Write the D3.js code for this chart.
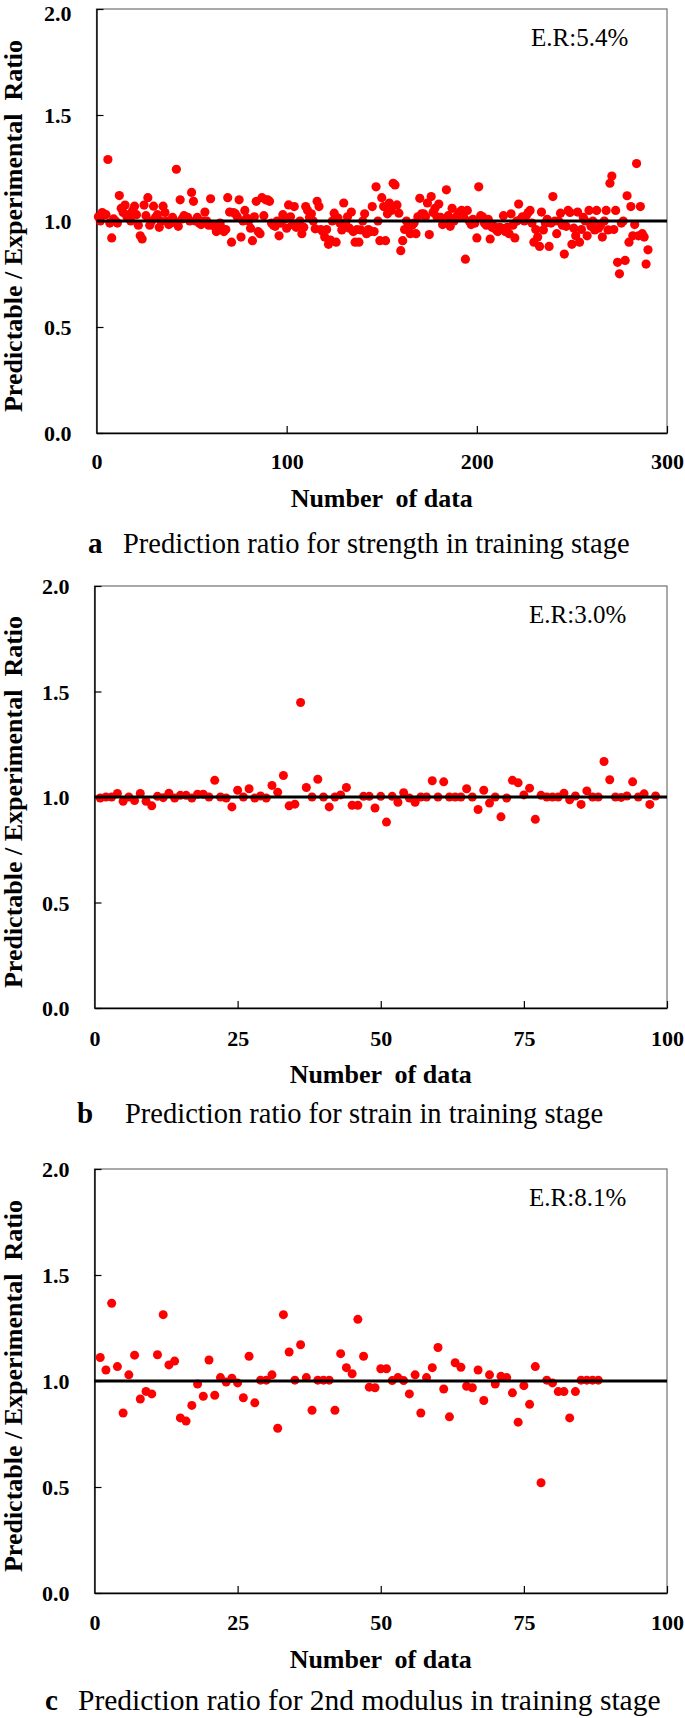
<!DOCTYPE html>
<html>
<head>
<meta charset="utf-8">
<script src="https://cdn.jsdelivr.net/npm/d3@7"></script>
<style>
  body { margin: 0; background: #fff; }
  svg text { font-family: "Liberation Serif", "Times New Roman", serif; fill: #000; }
</style>
</head>
<body>
<svg id="chart" width="685" height="1718"></svg>
<script>
// predicted / experimental ratio (index = data number)
var strengthRatio = [
  1.02, 1.00, 1.04, 1.03, 1.03, 1.29, 0.99, 0.92, 1.01, 1.00,
  0.99, 1.12, 1.06, 1.04, 1.075, 1.02, 1.03, 1.00, 1.05, 1.07,
  1.03, 0.98, 0.93, 0.915, 1.075, 1.025, 1.11, 0.98, 1.00, 1.07,
  1.017, 1.03, 0.97, 1.00, 1.07, 1.04, 1.00, 0.983, 0.99, 1.017,
  1.00, 1.244, 0.975, 1.10, 1.01, 1.025, 1.02, 1.017, 1.00, 1.135,
  1.093, 1.00, 1.017, 0.99, 0.983, 1.00, 1.042, 1.00, 0.98, 1.105,
  0.98, 0.975, 0.95, 0.96, 0.99, 0.966, 0.95, 0.96, 1.11, 1.042,
  0.90, 1.04, 1.034, 1.02, 1.10, 0.924, 1.00, 1.05, 1.014, 1.00,
  0.966, 0.907, 1.02, 1.093, 0.95, 0.94, 1.11, 1.025, 1.10, 1.10,
  1.093, 0.99, 0.98, 0.975, 1.00, 0.93, 0.99, 1.03, 1.01, 0.966,
  1.076, 1.02, 0.983, 1.068, 0.97, 0.99, 1.00, 0.94, 0.97, 1.068,
  1.05, 1.017, 1.034, 1.00, 0.963, 1.093, 1.068, 0.96, 0.95, 0.924,
  0.96, 0.89, 0.91, 1.00, 1.037, 0.90, 1.014, 0.99, 0.958, 1.085,
  0.99, 1.02, 0.966, 1.042, 0.95, 0.90, 0.96, 0.90, 0.958, 1.00,
  1.034, 0.94, 0.96, 0.95, 1.068, 0.95, 1.161, 1.00, 0.907, 1.11,
  1.068, 0.907, 1.034, 1.085, 1.05, 1.178, 1.17, 1.076, 1.037, 0.86,
  0.907, 0.96, 1.00, 0.966, 0.94, 0.98, 0.99, 0.94, 1.02, 1.107,
  1.034, 1.034, 1.02, 1.085, 0.936, 1.115, 1.04, 1.06, 1.02, 1.08,
  1.017, 0.983, 1.00, 1.147, 1.025, 0.975, 1.06, 1.00, 1.017, 1.03,
  1.042, 1.05, 1.02, 0.82, 1.05, 1.00, 0.983, 1.008, 0.99, 0.92,
  1.161, 1.025, 1.02, 0.99, 0.98, 1.008, 0.915, 0.97, 0.975, 0.96,
  0.95, 0.97, 0.966, 1.025, 0.95, 0.97, 0.94, 1.034, 0.98, 0.92,
  1.00, 1.08, 1.008, 1.02, 1.00, 1.025, 1.04, 1.05, 0.99, 0.90,
  0.96, 0.924, 0.88, 1.042, 0.958, 0.99, 1.008, 0.88, 0.99, 1.115,
  1.00, 0.94, 1.00, 1.037, 0.98, 0.844, 0.975, 1.05, 1.04, 0.89,
  0.966, 0.93, 1.042, 0.90, 0.96, 1.017, 1.00, 0.93, 1.05, 0.975,
  1.00, 0.958, 1.05, 0.966, 0.98, 0.924, 1.00, 1.05, 0.958, 1.178,
  1.212, 0.96, 1.05, 0.805, 0.751, 0.99, 1.00, 0.814, 1.119, 0.90,
  1.068, 0.93, 0.983, 1.271, 0.93, 1.068, 0.94, 0.924, 0.797, 0.864
];
var strainRatio = [
  0.995, 1.00, 1.00, 1.017, 0.98, 1.00, 0.983, 1.017, 0.98, 0.958,
  1.003, 0.997, 1.018, 0.995, 1.008, 1.008, 0.995, 1.013, 1.013, 1.00,
  1.079, 1.00, 0.995, 0.953, 1.032, 1.00, 1.039, 0.995, 1.005, 0.995,
  1.055, 1.023, 1.102, 0.958, 0.966, 1.448, 1.045, 1.00, 1.084, 1.00,
  0.953, 1.00, 1.01, 1.045, 0.961, 0.961, 1.003, 1.003, 0.948, 1.003,
  0.881, 1.003, 0.975, 1.02, 0.995, 0.975, 1.00, 1.00, 1.077, 1.00,
  1.072, 1.00, 1.00, 1.00, 1.039, 1.00, 0.941, 1.032, 0.971, 1.00,
  0.906, 0.995, 1.079, 1.067, 1.01, 1.042, 0.894, 1.008, 1.00, 1.00,
  1.00, 1.018, 0.987, 1.005, 0.965, 1.029, 1.00, 1.00, 1.168, 1.082,
  1.00, 0.998, 1.005, 1.072, 1.00, 1.015, 0.965, 1.005
];
var modulusRatio = [
  1.111, 1.052, 1.367, 1.068, 0.849, 1.029, 1.122, 0.915, 0.951, 0.939,
  1.124, 1.313, 1.076, 1.094, 0.826, 0.811, 0.885, 0.986, 0.928, 1.099,
  0.933, 1.016, 0.995, 1.013, 0.991, 0.921, 1.117, 0.897, 1.004, 1.004,
  1.029, 0.777, 1.313, 1.137, 1.004, 1.171, 1.016, 0.862, 1.004, 1.004,
  1.004, 0.862, 1.129, 1.063, 1.034, 1.291, 1.117, 0.971, 0.968, 1.058,
  1.058, 1.002, 1.016, 1.002, 0.939, 1.029, 0.849, 1.016, 1.063, 1.158,
  0.962, 0.831, 1.086, 1.065, 0.975, 0.968, 1.052, 0.908, 1.029, 0.986,
  1.022, 1.016, 0.944, 0.806, 0.978, 0.890, 1.068, 0.520, 1.004, 0.991,
  0.950, 0.950, 0.826, 0.950, 1.004, 1.004, 1.004, 1.004
];
var yTicks = [0, 0.5, 1, 1.5, 2];
var xTicksStrength = [0, 100, 200, 300];
var xTicksSmall = [0, 25, 50, 75, 100];
var xMaxima = [300, 100, 100];
var errorRates = ["E.R:5.4%", "E.R:3.0%", "E.R:8.1%"];
var panelLetters = ["a", "b", "c"];
var captions = [
  "Prediction ratio for strength in training stage",
  "Prediction ratio for strain in training stage",
  "Prediction ratio for 2nd modulus in training stage"
];

var svg = d3.select("#chart");

var panels = [
  {values: strengthRatio, xTicks: xTicksStrength, left: 96.5, right: 667, top: 9, bottom: 433,
   tickBase: 36, titleBase: 74, capBase: 120, letterX: 88, capX: 123, r: 4.6},
  {values: strainRatio, xTicks: xTicksSmall, left: 94.5, right: 667, top: 586, bottom: 1008,
   tickBase: 38, titleBase: 75, capBase: 115, letterX: 77, capX: 125, r: 4.5},
  {values: modulusRatio, xTicks: xTicksSmall, left: 94.5, right: 667, top: 1169, bottom: 1593,
   tickBase: 36.5, titleBase: 75, capBase: 117, letterX: 45, capX: 78, r: 4.5}
];

panels.forEach(function(p, k){ drawPanel(p, k); });

function drawPanel(p, k){
  var w = p.right - p.left, h = p.bottom - p.top;
  var g = svg.append("g").attr("transform", "translate(" + p.left + "," + p.top + ")");

  var x = d3.scaleLinear().domain([0, xMaxima[k]]).range([0, w]);
  var y = d3.scaleLinear().domain([0, 2]).range([h, 0]);

  // grey frame (top / right)
  g.append("rect")
    .attr("width", w).attr("height", h)
    .attr("fill", "none").attr("stroke", "#707070").attr("stroke-width", 1.2);

  var yAxis = g.append("g")
    .call(d3.axisLeft(y).tickValues(yTicks).tickFormat(d3.format(".1f"))
      .tickSizeInner(-7).tickSizeOuter(0).tickPadding(25));
  var xAxis = g.append("g")
    .attr("transform", "translate(0," + h + ")")
    .call(d3.axisBottom(x).tickValues(p.xTicks)
      .tickSizeInner(-7).tickSizeOuter(0).tickPadding(p.tickBase - 15.6));

  [yAxis, xAxis].forEach(function(ax){
    ax.select(".domain").attr("stroke", "#000").attr("stroke-width", 1.4);
    ax.selectAll(".tick line").attr("stroke", "#000").attr("stroke-width", 1.2);
    ax.selectAll("text")
      .style("font-family", '"Liberation Serif", "Times New Roman", serif')
      .style("font-weight", "bold").style("font-size", "22px").attr("fill", "#000");
  });
  yAxis.selectAll("text").attr("dy", function(d){
    // the top label of the first panel sits right at the page edge
    return (k === 0 && d === 2) ? "0.5em" : "0.36em";
  });
  xAxis.selectAll(".tick").filter(function(d){ return d === 0; }).select("line").remove();

  // points
  g.append("g").selectAll("circle")
    .data(p.values)
    .enter()
    .append("circle")
    .attr("cx", function(d, i){ return x(i + 1); })
    .attr("cy", function(d){ return y(d); })
    .attr("r", p.r)
    .attr("fill", "#ff0000");

  // ratio = 1 line
  g.append("line")
    .attr("x1", 0).attr("x2", w)
    .attr("y1", y(1)).attr("y2", y(1))
    .attr("stroke", "#000").attr("stroke-width", 3);

  g.append("text")
    .attr("x", 434.5).attr("y", 36.5)
    .style("font-size", "25px")
    .text(errorRates[k]);

  // axis titles
  g.append("text")
    .attr("x", w / 2).attr("y", h + p.titleBase)
    .attr("text-anchor", "middle")
    .style("font-size", "26px").style("font-weight", "bold")
    .style("white-space", "pre")
    .text("Number  of data");

  svg.append("text")
    .attr("transform", "translate(22," + (p.top + h / 2 + 5) + ") rotate(-90)")
    .attr("text-anchor", "middle")
    .style("font-size", "26px").style("font-weight", "bold")
    .style("white-space", "pre")
    .text("Predictable / Experimental  Ratio");

  // caption
  svg.append("text")
    .attr("x", p.letterX).attr("y", p.bottom + p.capBase)
    .style("font-size", "29px").style("font-weight", "bold")
    .text(panelLetters[k]);
  svg.append("text")
    .attr("x", p.capX).attr("y", p.bottom + p.capBase)
    .style("font-size", k === 2 ? "29.5px" : "28.5px")
    .text(captions[k]);
}
</script>
</body>
</html>
